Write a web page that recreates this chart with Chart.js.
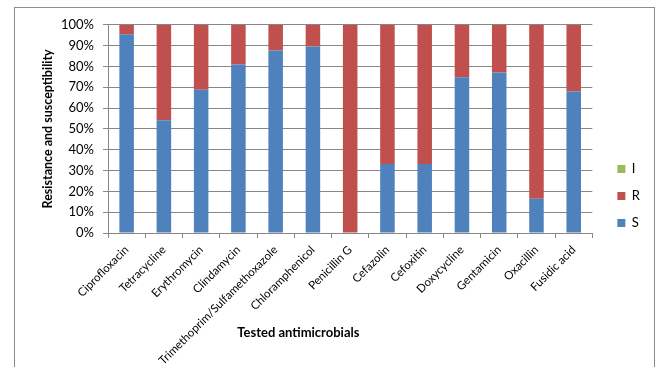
<!DOCTYPE html>
<html>
<head>
<meta charset="utf-8">
<script src="https://cdn.jsdelivr.net/npm/chart.js@4"></script>
<style>
    html, body { margin: 0; padding: 0; background: #fff; overflow: hidden; }
    #frame {
        position: absolute; left: 14px; top: 7px;
        width: 639px; height: 362px;
        border: 1px solid #8e8e8e;
    }
    #chart { display: block; }
</style>
</head>
<body>
<div id="frame"><canvas id="chart" width="639" height="360"></canvas></div>
<script>
// Data
const antimicrobials = ['Ciprofloxacin', 'Tetracycline', 'Erythromycin', 'Clindamycin',
    'Trimethoprim/Sulfamethoxazole', 'Chloramphenicol', 'Penicillin G', 'Cefazolin',
    'Cefoxitin', 'Doxycycline', 'Gentamicin', 'Oxacillin', 'Fusidic acid'];
const susceptible = [95.5, 54.1, 68.8, 80.9, 87.6, 89.6, 0, 33.1, 33.1, 74.8, 77.1, 16.4, 68.0];
const resistant = [4.5, 45.9, 31.2, 19.1, 12.4, 10.4, 100, 66.9, 66.9, 25.2, 22.9, 83.6, 32.0];
const intermediate = [0, 0, 0, 0, 0, 0, 0, 0, 0, 0, 0, 0, 0];
const yTicks = [0, 10, 20, 30, 40, 50, 60, 70, 80, 90, 100];

const gridColor = '#878787';
const fontFamily = 'Lato, "Liberation Sans", sans-serif';

// x axis title sits left of centre in the original, so draw it by hand
const xTitlePlugin = {
    id: 'xTitle',
    afterDraw(chart) {
        const area = chart.chartArea;
        const ctx = chart.ctx;
        ctx.save();
        ctx.font = 'bold 13px ' + fontFamily;
        ctx.fillStyle = '#000';
        ctx.textAlign = 'center';
        ctx.textBaseline = 'middle';
        ctx.fillText('Tested antimicrobials', area.left + (area.right - area.left) * 0.393, 325);
        ctx.restore();
    }
};

new Chart(document.getElementById('chart'), {
    type: 'bar',
    data: {
        labels: antimicrobials,
        datasets: [
            { label: 'S', data: susceptible, backgroundColor: '#4f81bd' },
            { label: 'R', data: resistant, backgroundColor: '#c0504d' },
            { label: 'I', data: intermediate, backgroundColor: '#9bbb59' }
        ]
    },
    options: {
        responsive: false,
        animation: false,
        layout: { padding: { top: 16, right: 4, bottom: 0, left: 0 } },
        datasets: { bar: { categoryPercentage: 1, barPercentage: 0.39 } },
        plugins: {
            tooltip: { enabled: false },
            legend: {
                position: 'right',
                reverse: true,
                labels: {
                    boxWidth: 8, boxHeight: 8, padding: 14,
                    color: '#000',
                    font: { family: fontFamily, size: 13 }
                }
            }
        },
        scales: {
            x: {
                stacked: true,
                grid: { display: true, offset: true, drawOnChartArea: false, tickLength: 5, color: gridColor },
                border: { display: true, color: gridColor },
                ticks: {
                    minRotation: 45, maxRotation: 45, padding: 5, autoSkip: false,
                    color: '#000', font: { family: fontFamily, size: 11.5 }
                },
                afterFit: scale => { scale.height = 135; }
            },
            y: {
                stacked: true,
                min: 0, max: 100,
                afterBuildTicks: scale => { scale.ticks = yTicks.map(v => ({ value: v })); },
                grid: { color: gridColor, tickLength: 5 },
                border: { display: true, color: gridColor },
                ticks: {
                    padding: 9, color: '#000',
                    font: { family: fontFamily, size: 13 },
                    callback: v => v + '%'
                },
                title: {
                    display: true, text: 'Resistance and susceptibility',
                    color: '#000', font: { family: fontFamily, size: 12.5, weight: 'bold' },
                    padding: { top: 25, bottom: 0 }
                },
                afterFit: scale => { scale.width = 93; }
            },
            spacer: {
                position: 'right',
                display: true,
                grid: { display: false },
                border: { display: false },
                ticks: { display: false },
                afterFit: scale => { scale.width = 11; }
            }
        }
    },
    plugins: [xTitlePlugin]
});
</script>
</body>
</html>
